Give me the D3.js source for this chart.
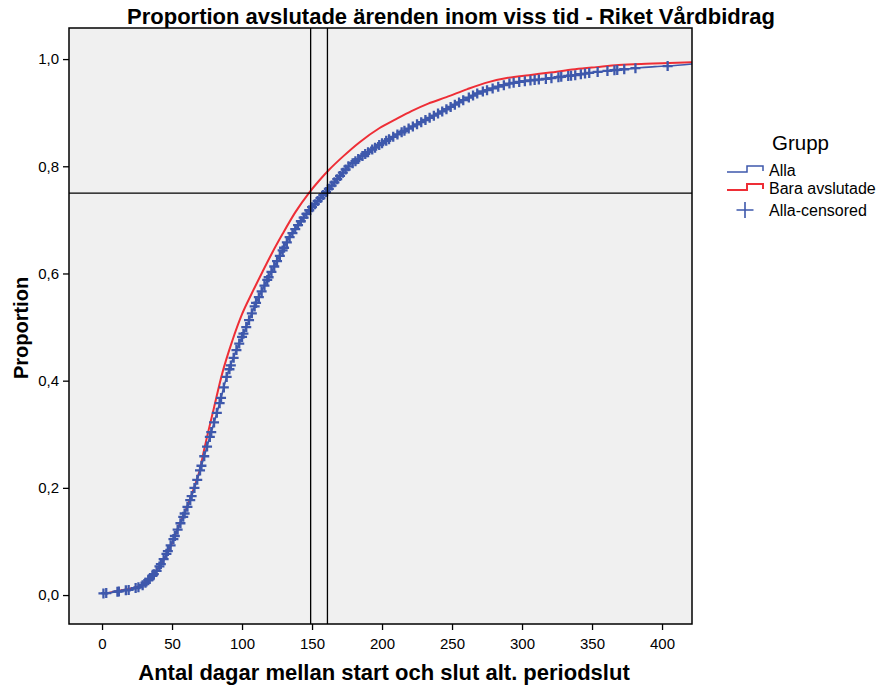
<!DOCTYPE html>
<html>
<head>
<meta charset="utf-8">
<script src="https://cdn.jsdelivr.net/npm/d3@7"></script>
<style>
    body { margin: 0; background: #fff; }
    text { font-family: Arial, "Liberation Sans", sans-serif; fill: #000; }
</style>
</head>
<body>
<svg id="chart" width="880" height="688"></svg>
<script>
// Alla (all cases)
var allaDays = [1, 10, 20, 28, 34, 39, 43, 48, 53, 58, 63, 68, 72, 75, 84, 89, 96, 103, 110, 118, 126, 134, 141, 148, 154, 160, 168, 176, 188, 200, 210, 221, 233, 245, 257, 269, 281, 292, 305, 317, 328, 338, 350, 365, 381, 395, 404, 422];
var allaProp = [0.003, 0.006, 0.01, 0.016, 0.03, 0.045, 0.062, 0.087, 0.116, 0.146, 0.177, 0.215, 0.25, 0.277, 0.358, 0.407, 0.457, 0.5, 0.545, 0.588, 0.628, 0.668, 0.694, 0.718, 0.735, 0.752, 0.776, 0.8, 0.823, 0.843, 0.858, 0.873, 0.889, 0.905, 0.922, 0.937, 0.947, 0.955, 0.96, 0.963, 0.967, 0.97, 0.975, 0.979, 0.983, 0.986, 0.987, 0.991];

// Bara avslutade (closed cases only)
var baraDays = [3, 10, 20, 28, 34, 40, 45, 50, 55, 60, 65, 70, 73, 80, 86, 93, 100, 107, 114, 121, 129, 138, 148, 155, 162, 172, 184, 198, 210, 221, 233, 246, 261, 276, 290, 305, 320, 338, 353, 369, 385, 400, 422];
var baraProp = [0.003, 0.007, 0.012, 0.018, 0.033, 0.05, 0.07, 0.097, 0.13, 0.16, 0.195, 0.235, 0.272, 0.35, 0.415, 0.474, 0.524, 0.563, 0.6, 0.636, 0.674, 0.714, 0.751, 0.773, 0.793, 0.818, 0.845, 0.871, 0.888, 0.903, 0.917, 0.929, 0.944, 0.957, 0.965, 0.97, 0.975, 0.981, 0.985, 0.989, 0.991, 0.992, 0.994];

// censored times in Alla
var censoredDays = [1, 3, 11, 12, 17, 19, 24, 26, 29, 31, 33, 34, 36, 37, 39, 41, 42, 44, 46, 47, 49, 51, 52, 54, 56, 58, 59, 61, 63, 64, 66, 68, 70, 71, 73, 75, 77, 78, 80, 82, 84, 85, 87, 89, 91, 92, 94, 96, 98, 100, 101, 103, 105, 107, 109, 110, 112, 114, 116, 118, 119, 121, 123, 125, 127, 129, 130, 132, 134, 136, 138, 140, 142, 144, 146, 148, 150, 152, 154, 156, 158, 160, 162, 164, 166, 168, 170, 172, 174, 176, 179, 181, 183, 186, 188, 190, 193, 195, 198, 200, 203, 205, 208, 211, 214, 216, 219, 222, 225, 228, 231, 234, 237, 240, 243, 246, 249, 252, 255, 258, 262, 265, 268, 272, 275, 279, 283, 287, 291, 294, 298, 302, 306, 309, 312, 317, 321, 326, 328, 333, 335, 338, 342, 345, 348, 354, 361, 366, 368, 373, 381, 404];

// reference lines
var refDays = [149, 161];
var refProp = [0.75];

var xTicks = [0, 50, 100, 150, 200, 250, 300, 350, 400];
var yTicks = [0, 0.2, 0.4, 0.6, 0.8, 1.0];

var legendLabels = ["Alla", "Bara avslutade", "Alla-censored"];

(function kmChart() {
    var blue = "#3e58ac", red = "#ee2e36";
    var svg = d3.select("#chart");

    var pLeft = 69, pRight = 692, pTop = 28, pBottom = 624;

    var x = d3.scaleLinear().domain([-23.6, 421.4]).range([pLeft, pRight]);
    var y = d3.scaleLinear().domain([-0.054, 1.058]).range([pBottom, pTop]);

    var sv = d3.formatLocale({decimal: ",", thousands: " ", grouping: [3], currency: ["", " kr"]});
    var fmt = sv.format(".1f");

    svg.append("text")
        .attr("x", 451)
        .attr("y", 24)
        .attr("text-anchor", "middle")
        .style("font-weight", "bold")
        .style("font-size", "22px")
        .text("Proportion avslutade ärenden inom viss tid - Riket Vårdbidrag");

    svg.append("rect")
        .attr("x", pLeft)
        .attr("y", pTop)
        .attr("width", pRight - pLeft)
        .attr("height", pBottom - pTop)
        .attr("fill", "#f0f0f0");

    svg.append("clipPath").attr("id", "clip")
        .append("rect").attr("x", pLeft).attr("y", pTop)
        .attr("width", pRight - pLeft).attr("height", pBottom - pTop);

    var g = svg.append("g").attr("clip-path", "url(#clip)");

    var baraData = baraDays.map(function (d, i) { return [d, baraProp[i]]; });
    var allaData = allaDays.map(function (d, i) { return [d, allaProp[i]]; });

    var line = d3.line()
        .curve(d3.curveMonotoneX)
        .x(function (d) { return x(d[0]); })
        .y(function (d) { return y(d[1]); });

    g.append("path")
        .datum(baraData)
        .attr("d", line)
        .attr("fill", "none")
        .attr("stroke", red)
        .attr("stroke-width", 2);

    g.append("path")
        .datum(allaData)
        .attr("d", line)
        .attr("fill", "none")
        .attr("stroke", blue)
        .attr("stroke-width", 1.6);

    // censor marks sit on the Alla curve
    var onAlla = d3.scaleLinear().domain(allaDays).range(allaProp).clamp(true);

    g.selectAll(".cens")
        .data(censoredDays)
        .enter().append("path")
        .attr("class", "cens")
        .attr("transform", function (d) {
            return "translate(" + x(d) + "," + y(onAlla(d)) + ")";
        })
        .attr("d", "M-5,0H5M0,-5V5")
        .attr("stroke", blue)
        .attr("stroke-width", 2.3)
        .attr("fill", "none");

    // reference lines
    refDays.forEach(function (d) {
        g.append("line")
            .attr("x1", x(d)).attr("x2", x(d))
            .attr("y1", pTop).attr("y2", pBottom)
            .attr("stroke", "#000")
            .attr("stroke-width", 1.3);
    });
    refProp.forEach(function (p) {
        g.append("line")
            .attr("x1", pLeft).attr("x2", pRight)
            .attr("y1", y(p)).attr("y2", y(p))
            .attr("stroke", "#000")
            .attr("stroke-width", 1.3);
    });

    svg.append("rect")
        .attr("x", pLeft)
        .attr("y", pTop)
        .attr("width", pRight - pLeft)
        .attr("height", pBottom - pTop)
        .attr("fill", "none")
        .attr("stroke", "#000")
        .attr("stroke-width", 1.5);

    var xAxis = svg.append("g")
        .attr("transform", "translate(0," + pBottom + ")")
        .call(d3.axisBottom(x).tickValues(xTicks).tickSize(6).tickPadding(8).tickFormat(d3.format("d")));
    var yAxis = svg.append("g")
        .attr("transform", "translate(" + pLeft + ",0)")
        .call(d3.axisLeft(y).tickValues(yTicks).tickSize(6).tickPadding(4).tickFormat(fmt));

    [xAxis, yAxis].forEach(function (a) {
        a.select(".domain").remove();
        a.selectAll("line").attr("stroke", "#000").attr("stroke-width", 1.3);
        a.selectAll("text")
            .attr("fill", "#000")
            .style("font-size", "15px")
            .style("font-family", "Arial, 'Liberation Sans', sans-serif");
    });

    svg.append("text")
        .attr("x", 384)
        .attr("y", 680)
        .attr("text-anchor", "middle")
        .style("font-weight", "bold")
        .style("font-size", "22px")
        .text("Antal dagar mellan start och slut alt. periodslut");

    svg.append("text")
        .attr("transform", "translate(28," + ((pTop + pBottom) / 2 + 2) + ") rotate(-90)")
        .attr("text-anchor", "middle")
        .style("font-weight", "bold")
        .style("font-size", "20px")
        .text("Proportion");

    // legend
    var lg = svg.append("g");
    lg.append("text")
        .attr("x", 772)
        .attr("y", 150)
        .style("font-size", "20.5px")
        .text("Grupp");

    var rows = [176, 194, 216];
    var rowColor = [blue, red, blue];
    legendLabels.forEach(function (lab, i) {
        var yy = rows[i];
        if (i < 2) {
            lg.append("path")
                .attr("d", "M727," + (yy - 4) + "H747V" + (yy - 10) + "H763V" + (yy - 5))
                .attr("fill", "none")
                .attr("stroke", rowColor[i])
                .attr("stroke-width", i == 1 ? 2 : 1.5);
        } else {
            lg.append("path")
                .attr("d", "M736.5," + (yy - 6) + "H753.5M745," + (yy - 14) + "V" + (yy + 2))
                .attr("fill", "none")
                .attr("stroke", blue)
                .attr("stroke-width", 1.6);
        }
        lg.append("text")
            .attr("x", 769)
            .attr("y", yy)
            .style("font-size", "16px")
            .text(lab);
    });
}());
</script>
</body>
</html>
